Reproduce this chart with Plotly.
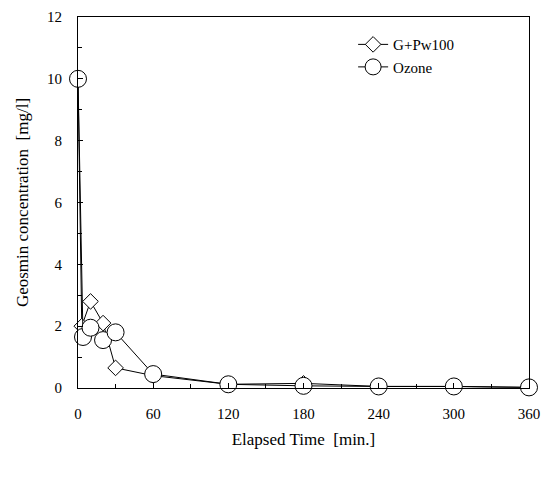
import plotly.graph_objects as go

# Elapsed time [min.]
time_gpw = [0, 3, 10, 20, 30, 60, 120, 180, 240, 300, 360]
gpw100 = [10.0, 2.0, 2.8, 2.1, 0.65, 0.4, 0.12, 0.15, 0.05, 0.05, 0.02]

time_ozone = [0, 4, 10, 20, 30, 60, 120, 180, 240, 300, 360]
ozone = [10.0, 1.65, 1.95, 1.55, 1.8, 0.45, 0.12, 0.07, 0.05, 0.05, 0.02]

x_ticks = [0, 60, 120, 180, 240, 300, 360]
y_ticks = [0, 2, 4, 6, 8, 10, 12]

serif = "Liberation Serif, Times New Roman, serif"

fig = go.Figure()

fig.add_trace(go.Scatter(
    x=time_gpw, y=gpw100,
    mode='lines+markers',
    name='G+Pw100',
    line=dict(color='black', width=1),
    marker=dict(symbol='diamond', size=12, color='white',
                line=dict(color='black', width=1)),
    cliponaxis=False,
))

fig.add_trace(go.Scatter(
    x=time_ozone, y=ozone,
    mode='lines+markers',
    name='Ozone',
    line=dict(color='black', width=1),
    marker=dict(symbol='circle', size=17, color='white',
                line=dict(color='black', width=1)),
    cliponaxis=False,
))

# the page body adds an 8px offset, so the figure is sized to fit the window
fig.update_layout(
    width=545, height=471,
    paper_bgcolor='white', plot_bgcolor='white',
    font=dict(family=serif, size=14, color='black'),
    margin=dict(l=70, r=24, t=9, b=91),
    showlegend=True,
    legend=dict(x=0.61, y=0.97, xanchor='left', yanchor='top',
                bgcolor='rgba(0,0,0,0)', font=dict(size=15),
                itemwidth=30, tracegroupgap=2),
    xaxis=dict(
        range=[0, 360], tickvals=x_ticks, automargin=False,
        ticklabeloverflow='allow',
        showline=True, linecolor='black', linewidth=1, mirror=True,
        ticks='inside', ticklen=5, tickcolor='black',
        tickfont=dict(size=15), ticklabelstandoff=12,
        minor=dict(dtick=30, ticks='inside', ticklen=4, tickcolor='black'),
        showgrid=False, zeroline=False,
        title=dict(text='Elapsed Time  [min.]', standoff=12),
    ),
    yaxis=dict(
        range=[0, 12], tickvals=y_ticks, automargin=False,
        ticklabeloverflow='allow',
        showline=True, linecolor='black', linewidth=1, mirror=True,
        ticks='inside', ticklen=5, tickcolor='black',
        tickfont=dict(size=15), ticklabelstandoff=12,
        minor=dict(dtick=1, ticks='inside', ticklen=4, tickcolor='black'),
        showgrid=False, zeroline=False,
        title=dict(text='Geosmin concentration  [mg/l]', standoff=14),
    ),
)

fig.write_html("out.html")
